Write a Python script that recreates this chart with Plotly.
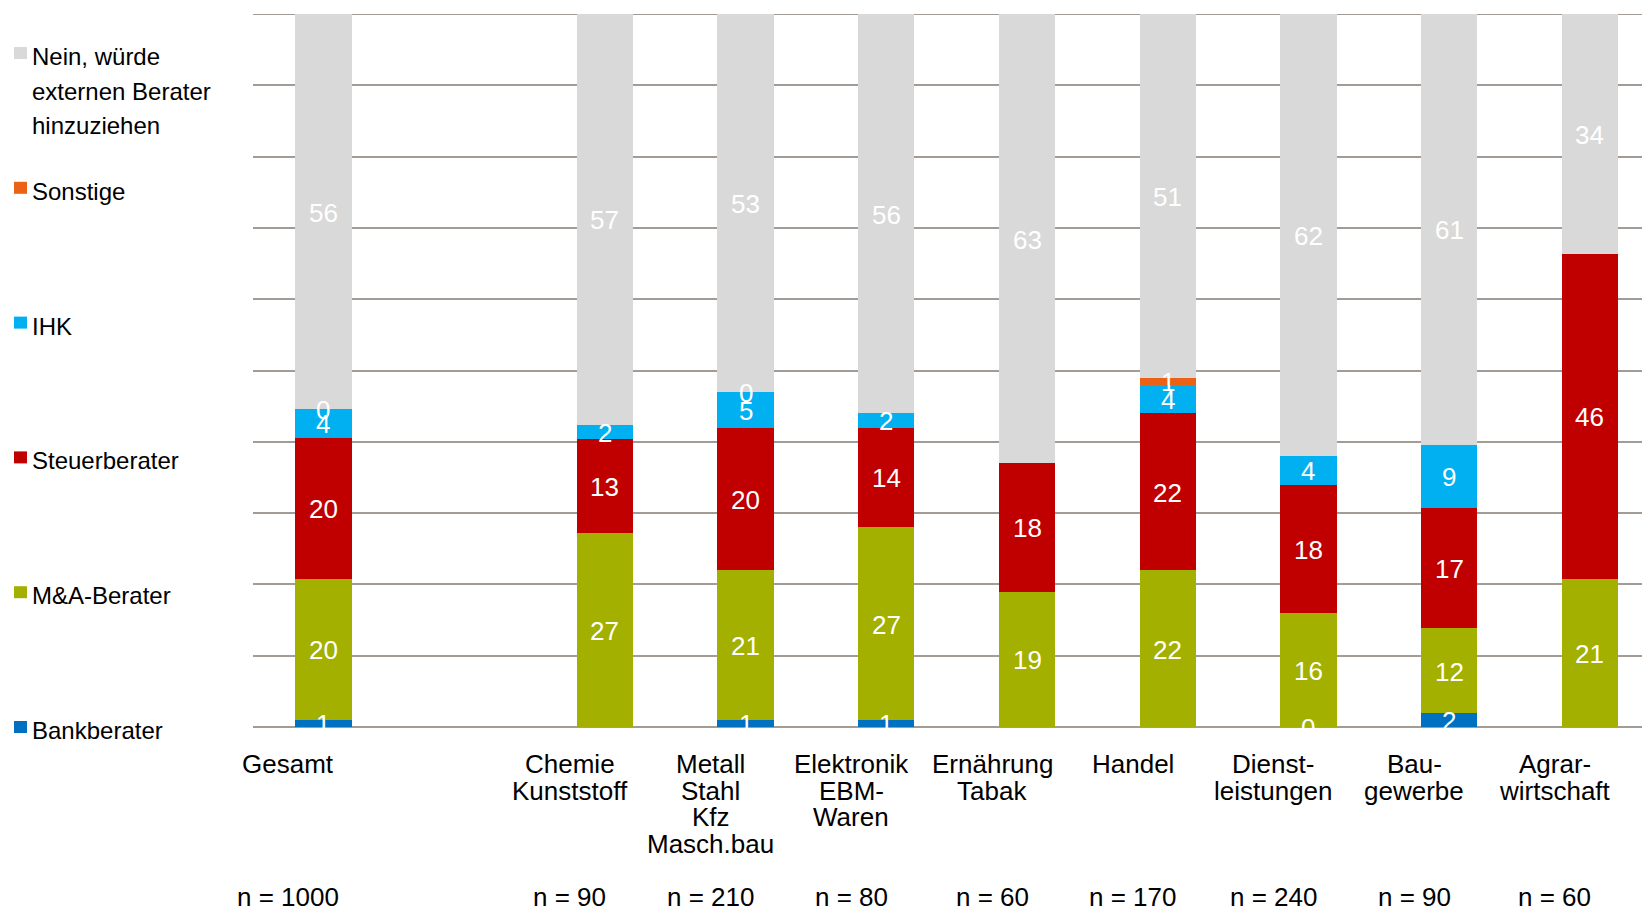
import plotly.graph_objects as go

# ---------------- data ----------------
categories = ["Gesamt", "", "Chemie<br>Kunststoff", "Metall<br>Stahl<br>Kfz<br>Masch.bau",
              "Elektronik<br>EBM-<br>Waren", "Ernährung<br>Tabak", "Handel",
              "Dienst-<br>leistungen", "Bau-<br>gewerbe", "Agrar-<br>wirtschaft"]
sample_sizes = ["n = 1000", "", "n = 90", "n = 210", "n = 80", "n = 60", "n = 170",
                "n = 240", "n = 90", "n = 60"]

bankberater = [1, None, None, 1, 1, None, None, 0, 2, None]
ma_berater = [20, None, 27, 21, 27, 19, 22, 16, 12, 21]
steuerberater = [20, None, 13, 20, 14, 18, 22, 18, 17, 46]
ihk = [4, None, 2, 5, 2, None, 4, 4, 9, None]
sonstige = [0, None, None, 0, None, None, 1, None, None, None]
nein = [56, None, 57, 53, 56, 63, 51, 62, 61, 34]

series_names = ["Bankberater", "M&A-Berater", "Steuerberater", "IHK", "Sonstige",
                "Nein, würde externen Berater hinzuziehen"]
legend_labels = ["Bankberater", "M&A-Berater", "Steuerberater", "IHK", "Sonstige",
                 "Nein, würde<br>externen Berater<br>hinzuziehen"]
series_values = [bankberater, ma_berater, steuerberater, ihk, sonstige, nein]
series_colors = ["#0070C0", "#A3B000", "#C00000", "#00B0F0", "#EB6115", "#D9D9D9"]

FONT = "Liberation Sans, Arial, sans-serif"
GRID = "#A39B96"

# ---------------- layout geometry (pixels) ----------------
W, H = 1642, 909
L, R, T, B = 253, 0, 14, 182
PW, PH = W - L - R, H - T - B


def px_x(p):
    return (p - L) / PW


def px_y(p):
    return (H - B - p) / PH


x_pos = list(range(len(categories)))

fig = go.Figure()

for name, vals, col in zip(series_names, series_values, series_colors):
    fig.add_trace(go.Bar(x=x_pos, y=vals, name=name, marker=dict(color=col, line=dict(width=0)),
                         width=0.4, showlegend=False, hoverinfo="name+y"))

annotations = []

# data labels (centered in each segment, on the 100 % scale)
for i in x_pos:
    vals = [s[i] for s in series_values]
    total = sum(v for v in vals if v is not None)
    if not total:
        continue
    cum = 0
    for v in vals:
        if v is None:
            continue
        annotations.append(dict(x=i, xref="x", y=(cum + v / 2) / total * 100, yref="y",
                                text=str(v), showarrow=False, xanchor="center", yanchor="middle",
                                yshift=-1, font=dict(size=26, color="white", family=FONT)))
        cum += v

# category labels (one annotation per line for tight line spacing)
for i, (cat, n) in enumerate(zip(categories, sample_sizes)):
    if cat:
        for j, line in enumerate(cat.split("<br>")):
            annotations.append(dict(x=i, xref="x", y=px_y(764 + j * 26.7), yref="paper",
                                    text=line, showarrow=False, xanchor="center", xshift=-35,
                                    yanchor="middle", font=dict(size=26, color="black", family=FONT)))
    if n:
        annotations.append(dict(x=i, xref="x", y=px_y(896.5), yref="paper", text=n,
                                showarrow=False, xanchor="center", yanchor="middle", xshift=-35,
                                font=dict(size=26, color="black", family=FONT)))

# manual legend (top to bottom: reverse of stacking order)
shapes = [dict(type="line", xref="paper", yref="y", x0=0, x1=1, y0=100, y1=100,
               line=dict(color=GRID, width=2), layer="below")]
for k, idx in enumerate(reversed(range(len(series_names)))):
    top = 47 + k * 134.8
    shapes.append(dict(type="rect", xref="paper", yref="paper",
                       x0=px_x(14), x1=px_x(27), y0=px_y(top), y1=px_y(top + 12),
                       fillcolor=series_colors[idx], line=dict(width=0)))
    for j, line in enumerate(legend_labels[idx].split("<br>")):
        annotations.append(dict(x=px_x(30), xref="paper", y=px_y(top + 9.5 + j * 34.6), yref="paper",
                                text=line, showarrow=False, xanchor="left", yanchor="middle",
                                font=dict(size=24, color="black", family=FONT)))

fig.update_layout(
    width=W, height=H,
    margin=dict(l=L, r=R, t=T, b=B, pad=0),
    barmode="stack", barnorm="percent",
    paper_bgcolor="white", plot_bgcolor="white",
    font=dict(family=FONT, size=24, color="black"),
    annotations=annotations, shapes=shapes,
    xaxis=dict(range=[-0.5, 9.37], showgrid=False, showticklabels=False, zeroline=False,
               ticks="", showline=False, fixedrange=True),
    yaxis=dict(range=[0, 100], dtick=10, tick0=0, showgrid=True, gridcolor=GRID, gridwidth=2,
               showticklabels=False, zeroline=True, zerolinecolor=GRID, zerolinewidth=2,
               ticks="", showline=False, fixedrange=True),
    showlegend=False,
)

fig.write_html("out.html")
